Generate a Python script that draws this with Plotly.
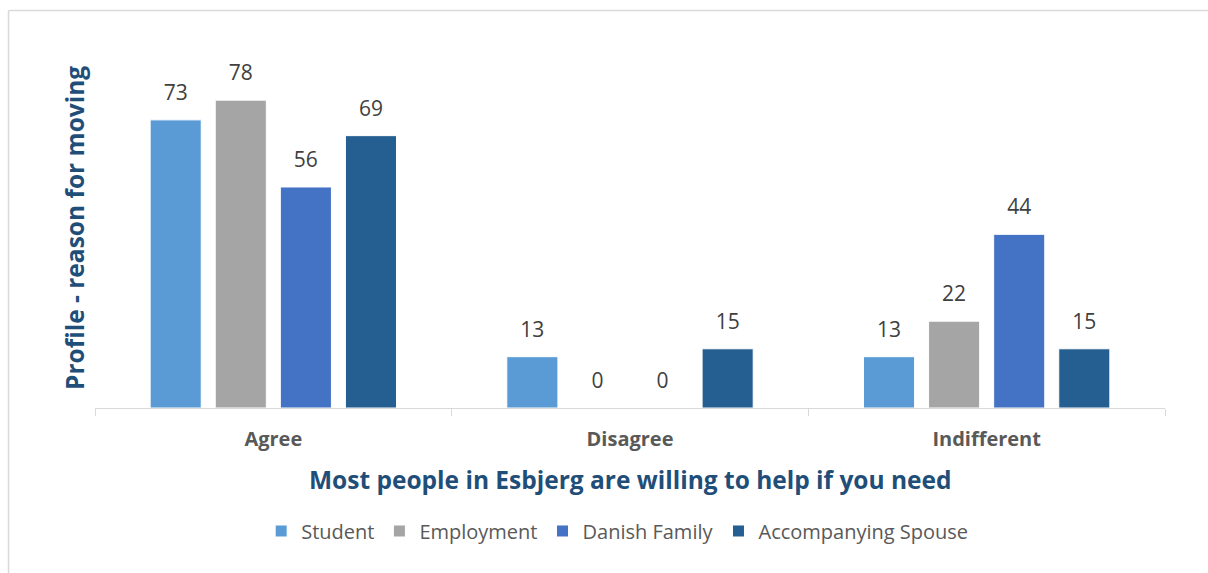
import plotly.graph_objects as go

# Survey answers by profile (percent)
categories = ["Agree", "Disagree", "Indifferent"]
series_names = ["Student", "Employment", "Danish Family", "Accompanying Spouse"]
student = [73, 13, 13]
employment = [78, 0, 22]
danish_family = [56, 0, 44]
accompanying_spouse = [69, 15, 15]

colors = ["#5B9BD5", "#A5A5A5", "#4472C4", "#255E91"]
series_values = [student, employment, danish_family, accompanying_spouse]

FONT = "Open Sans"
TEXT_GREY = "#595959"
TITLE_BLUE = "#1F4E79"
GRID_GREY = "#D9D9D9"

fig = go.Figure()

for name, vals, col in zip(series_names, series_values, colors):
    fig.add_trace(go.Bar(
        x=categories, y=vals, name=name,
        offsetgroup=name,
        marker=dict(color=col, line=dict(color="white", width=1)),
        hoverinfo="x+y+name",
    ))

# value labels above each bar, grouped like the bars
for name, vals in zip(series_names, series_values):
    fig.add_trace(go.Scatter(
        x=categories, y=vals,
        mode="markers+text",
        text=[str(v) for v in vals],
        textposition="top center",
        textfont=dict(family=FONT, size=21, color="#404040"),
        marker=dict(size=22, opacity=0),
        offsetgroup=name,
        showlegend=False,
        hoverinfo="skip",
        cliponaxis=False,
    ))

fig.update_layout(
    width=1208, height=573,
    margin=dict(l=95, r=43, t=20, b=165),
    paper_bgcolor="white", plot_bgcolor="white",
    barmode="group", scattermode="group",
    bargap=0.27, bargroupgap=0.215, scattergap=0.27,
    font=dict(family=FONT, color=TEXT_GREY),
    xaxis=dict(
        showline=True, linecolor=GRID_GREY, linewidth=1,
        ticks="outside", tickson="boundaries", ticklen=7, tickcolor=GRID_GREY,
        tickfont=dict(family=FONT, size=20, color=TEXT_GREY, weight="bold"),
        ticklabelstandoff=13,
        showgrid=False, zeroline=False, fixedrange=True,
    ),
    yaxis=dict(visible=False, range=[0, 98.3], fixedrange=True),
    legend=dict(
        orientation="h", x=0.488, xanchor="center", y=-0.317, yanchor="middle",
        font=dict(family=FONT, size=20, color=TEXT_GREY),
        itemclick=False, itemdoubleclick=False,
    ),
    showlegend=True,
    annotations=[
        dict(text="Most people in Esbjerg are willing to help if you need",
             xref="paper", yref="paper", x=0.5, y=-0.183,
             xanchor="center", yanchor="middle", showarrow=False,
             font=dict(family=FONT, size=24.5, color=TITLE_BLUE, weight="bold")),
        dict(text="Profile - reason for moving",
             xref="paper", yref="paper", x=-0.0187, y=0.464,
             xanchor="center", yanchor="middle", textangle=-90, showarrow=False,
             font=dict(family=FONT, size=24.5, color=TITLE_BLUE, weight="bold")),
    ],
    shapes=[
        dict(type="line", xref="paper", yref="paper",
             x0=-0.0808, x1=1.1, y0=1.0245, y1=1.0245,
             line=dict(color=GRID_GREY, width=1.5)),
        dict(type="line", xref="paper", yref="paper",
             x0=-0.0808, x1=-0.0808, y0=-0.5, y1=1.0245,
             line=dict(color=GRID_GREY, width=1.5)),
    ],
)

fig.write_html("out.html")
